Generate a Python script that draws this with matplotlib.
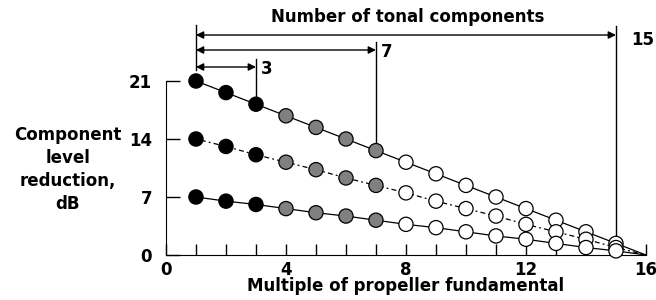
import matplotlib.pyplot as plt

# harmonic index (multiple of propeller fundamental)
harmonic = [1, 2, 3, 4, 5, 6, 7, 8, 9, 10, 11, 12, 13, 14, 15, 16]

# component level reduction, dB, for three starting levels
red_21 = [21.0, 19.6, 18.2, 16.8, 15.4, 14.0, 12.6, 11.2, 9.8, 8.4, 7.0, 5.6, 4.2, 2.8, 1.4, 0.0]
red_14 = [14.0, 13.1, 12.1, 11.2, 10.3, 9.3, 8.4, 7.5, 6.5, 5.6, 4.7, 3.7, 2.8, 1.9, 0.9, 0.0]
red_7 = [7.0, 6.5, 6.1, 5.6, 5.1, 4.7, 4.2, 3.7, 3.3, 2.8, 2.3, 1.9, 1.4, 0.9, 0.5, 0.0]

# how many tonal components get each fill colour
n_black = 3
n_grey = 7
n_total = 15
fill_colors = ["black"] * n_black + ["#808080"] * (n_grey - n_black) + ["white"] * (n_total - n_grey)

FONT = "DejaVu Sans"
FS = 12

fig = plt.figure(figsize=(6.56, 3.0), dpi=100)
ax = fig.add_axes([0.2530, 0.15, 0.7317, 0.58])

styles = [(red_21, "-"), (red_14, (0, (1.5, 2.5, 4, 2.5))), (red_7, "-")]
for vals, ls in styles:
    ax.plot(harmonic, vals, color="black", lw=0.9, ls=ls, zorder=2)
    ax.scatter(harmonic[:n_total], vals[:n_total], s=105, c=fill_colors,
               edgecolors="black", linewidths=0.9, zorder=3, clip_on=False)

ax.set_xlim(0, 16)
ax.set_ylim(0, 21)
for side in ("top", "right"):
    ax.spines[side].set_visible(False)
ax.spines["left"].set_bounds(0, 21)
ax.set_xticks([0, 4, 8, 12, 16])
ax.set_xticks(range(1, 17), minor=True)
ax.set_yticks([0, 7, 14, 21])
ax.tick_params(axis="x", which="both", direction="in", length=8, width=1)
ax.tick_params(axis="y", direction="in", length=10, width=1)
ax.tick_params(axis="x", which="major", pad=4)
ax.tick_params(axis="y", pad=10)
for lab in ax.get_xticklabels() + ax.get_yticklabels():
    lab.set_fontfamily(FONT)
    lab.set_fontweight("bold")
    lab.set_fontsize(FS)

ax.set_xlabel("Multiple of propeller fundamental", fontfamily=FONT,
              fontweight="bold", fontsize=FS, labelpad=-1)
fig.text(0.103, 0.435, "Component\nlevel\nreduction,\ndB", ha="center", va="center",
         multialignment="center", fontfamily=FONT, fontweight="bold",
         fontsize=FS, linespacing=1.38)

# bracket annotations for number of tonal components
arrow_kw = dict(arrowstyle="<|-|>", color="black", lw=1.0, mutation_scale=11,
                shrinkA=0, shrinkB=0)
ax.plot([1, 1], [22.3, 27.8], color="black", lw=1.0, clip_on=False)
for n, y_arr, y_top, y_bot in [(15, 26.55, 27.6, 2.4), (7, 24.74, 25.7, 13.5), (3, 22.69, 23.6, 19.0)]:
    ax.annotate("", xy=(n, y_arr), xytext=(1, y_arr), arrowprops=arrow_kw,
                annotation_clip=False)
    ax.plot([n, n], [y_bot, y_top], color="black", lw=1.0, clip_on=False)

ax.text(3.15, 22.45, "3", ha="left", va="center", fontfamily=FONT,
        fontweight="bold", fontsize=FS)
ax.text(7.15, 24.5, "7", ha="left", va="center", fontfamily=FONT,
        fontweight="bold", fontsize=FS)
ax.text(15.5, 25.9, "15", ha="left", va="center", fontfamily=FONT,
        fontweight="bold", fontsize=FS)
ax.text(8.07, 28.7, "Number of tonal components", ha="center", va="center",
        fontfamily=FONT, fontweight="bold", fontsize=FS)

fig.savefig("out.png", dpi=100)
